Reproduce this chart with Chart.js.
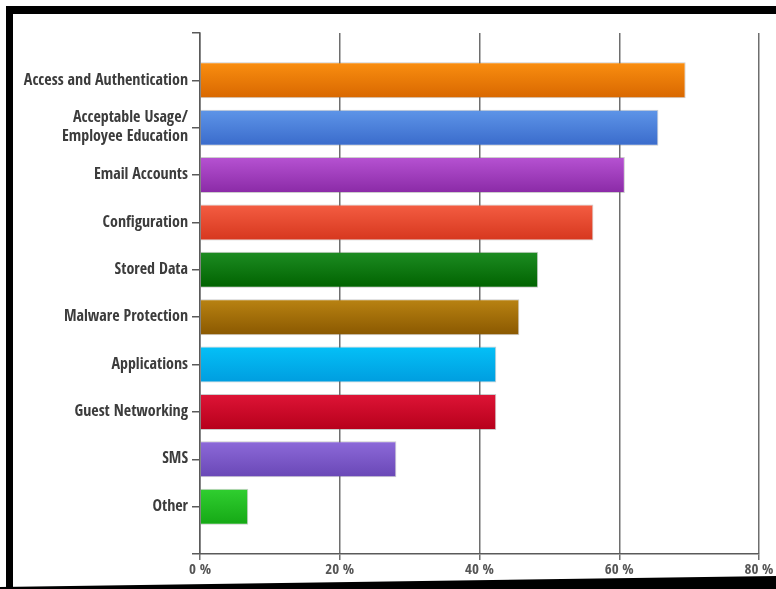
<!DOCTYPE html>
<html>
<head>
<meta charset="utf-8">
<script src="https://cdn.jsdelivr.net/npm/chart.js@4/dist/chart.umd.min.js"></script>
<style>
  html, body { margin: 0; padding: 0; background: #fff; }
  #wrap { position: relative; width: 776px; height: 589px; overflow: hidden; background: #fff; }
  #chart { position: absolute; left: 0; top: 0; }
  .band { position: absolute; background: #000; pointer-events: none; }
  #bandTop { left: 6px; top: 6px; width: 790px; height: 8px; }
  #bandLeft { left: 6px; top: 6px; width: 7px; height: 583px; }
  #bandBottom { left: 0; top: 560px; width: 776px; height: 29px;
    clip-path: polygon(0 27px, 776px 16px, 776px 29px, 0 29px); }
</style>
</head>
<body>
<div id="wrap">
  <canvas id="chart" width="776" height="589"></canvas>
  <div class="band" id="bandTop"></div>
  <div class="band" id="bandLeft"></div>
  <div class="band" id="bandBottom"></div>
</div>
<script>
// Survey areas covered by mobile security policy (% of respondents)
const categories = [
  'Access and Authentication',
  ['Acceptable Usage/', 'Employee Education'],
  'Email Accounts',
  'Configuration',
  'Stored Data',
  'Malware Protection',
  'Applications',
  'Guest Networking',
  'SMS',
  'Other'
];
const percentages = [69.5, 65.6, 60.8, 56.3, 48.4, 45.7, 42.4, 42.4, 28.1, 6.9];
const xTicks = [0, 20, 40, 60, 80];

// Bar fills: lighter top, darker bottom
const topColors = ['#fa8e10', '#5e95e8', '#b652d2', '#f45d42', '#1d8c22', '#b98312', '#04c0f7', '#de1436', '#8d6ad9', '#30cf30'];
const bottomColors = ['#d86700', '#3a6bcb', '#8a2aa6', '#d6371e', '#006200', '#8a5800', '#009ddf', '#b6001b', '#6947b6', '#15a815'];

const FONT = "'Open Sans Condensed', 'Roboto Condensed', 'DejaVu Sans Condensed', sans-serif";
const AXIS = '#5a5a5a';

const points = percentages.map((v, i) => ({ x: v, y: i }));

function barGradient(ctx) {
  const chart = ctx.chart;
  const i = ctx.dataIndex;
  const ys = chart.scales && chart.scales.y;
  if (!ys || !chart.chartArea || i === undefined) return topColors[i] || '#888';
  const c = ys.getPixelForValue(i);
  const half = Math.abs(ys.getPixelForValue(1) - ys.getPixelForValue(0)) * 0.38;
  const g = chart.ctx.createLinearGradient(0, c - half, 0, c + half);
  g.addColorStop(0, topColors[i]);
  g.addColorStop(1, bottomColors[i]);
  return g;
}

new Chart(document.getElementById('chart'), {
  type: 'bar',
  data: {
    datasets: [{
      data: points,
      backgroundColor: barGradient,
      borderColor: 'rgba(110,110,110,0.35)',
      borderWidth: 1,
      borderSkipped: 'left',
      categoryPercentage: 1,
      barPercentage: 0.76
    }]
  },
  options: {
    indexAxis: 'y',
    responsive: false,
    animation: false,
    events: [],
    layout: { padding: { top: 33, right: 17, left: 0, bottom: 0 } },
    plugins: { legend: { display: false }, tooltip: { enabled: false } },
    scales: {
      x: {
        type: 'linear',
        min: 0,
        max: 80,
        afterBuildTicks: s => { s.ticks = xTicks.map(v => ({ value: v })); },
        afterFit: s => { s.height = 35; },
        grid: { color: '#6e6e6e', lineWidth: 1.5, drawTicks: true, tickLength: 6, tickColor: '#6e6e6e' },
        border: { display: true, color: AXIS, width: 1.5 },
        ticks: {
          padding: 1,
          color: '#555',
          font: { family: FONT, size: 15, weight: '600' },
          callback: v => v + ' %'
        }
      },
      y: {
        type: 'linear',
        reverse: true,
        offset: false,
        min: -1,
        max: 10,
        afterBuildTicks: s => {
          const t = [];
          for (let v = -1; v <= 10; v++) t.push({ value: v });
          s.ticks = t;
        },
        afterFit: s => { s.width = 200; },
        grid: { offset: false, drawOnChartArea: false, drawTicks: true, tickLength: 8, tickColor: AXIS, lineWidth: 1.5 },
        border: { display: true, color: AXIS, width: 1.5 },
        ticks: {
          padding: 4,
          autoSkip: false,
          color: '#3c3c3c',
          font: { family: FONT, size: 16, weight: '600', lineHeight: 1.2 },
          callback: v => (categories[v] !== undefined ? categories[v] : '')
        }
      }
    }
  }
});
</script>
</body>
</html>
